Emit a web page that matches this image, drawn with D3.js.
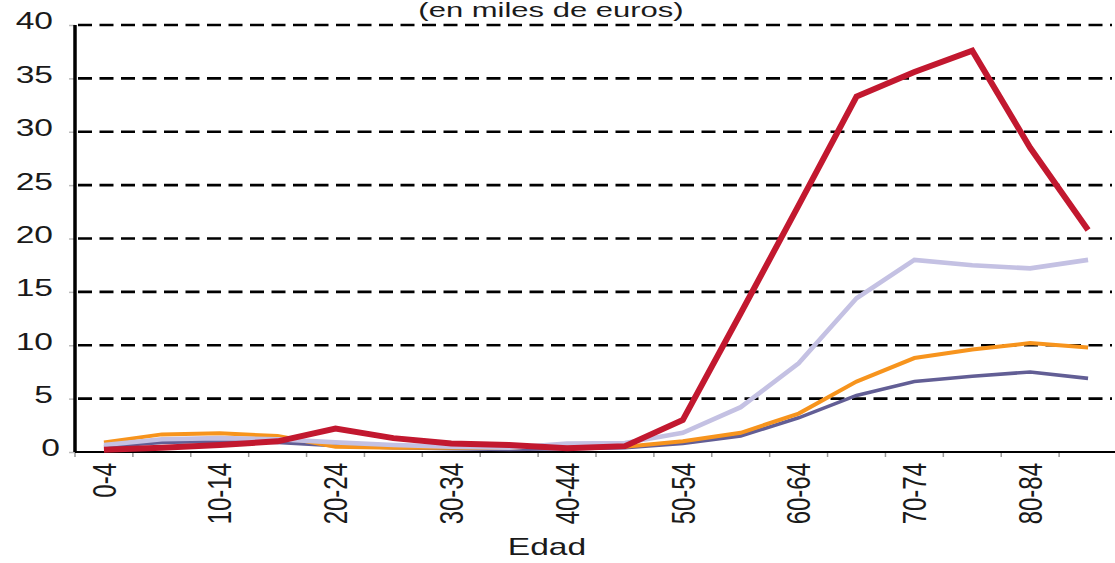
<!DOCTYPE html>
<html>
<head>
<meta charset="utf-8">
<script src="https://cdn.jsdelivr.net/npm/d3@7"></script>
<style>
  html, body { margin: 0; padding: 0; background: #fff; }
  svg { display: block; }
  text { font-family: "Liberation Sans", Arial, sans-serif; fill: #1a1a1a; }
</style>
</head>
<body>
<svg id="chart" width="1115" height="563"></svg>
<script>
const categories = ["0-4","5-9","10-14","15-19","20-24","25-29","30-34","35-39","40-44","45-49","50-54","55-59","60-64","65-69","70-74","75-79","80-84","85+"];
const serieRoja    = [0.2, 0.4, 0.65, 1.0, 2.2, 1.3, 0.8, 0.65, 0.35, 0.55, 3.0, 13.0, 23.1, 33.3, 35.6, 37.6, 28.5, 20.8];
const serieLila    = [0.65, 1.2, 1.3, 1.2, 0.9, 0.65, 0.5, 0.4, 0.8, 0.85, 1.8, 4.2, 8.3, 14.4, 18.0, 17.5, 17.2, 18.0];
const serieNaranja = [0.9, 1.65, 1.75, 1.5, 0.5, 0.4, 0.4, 0.4, 0.7, 0.5, 1.0, 1.8, 3.6, 6.6, 8.8, 9.6, 10.2, 9.8];
const serieMorada  = [0.5, 0.9, 1.0, 0.9, 0.6, 0.4, 0.3, 0.25, 0.3, 0.4, 0.8, 1.5, 3.2, 5.3, 6.6, 7.1, 7.5, 6.9];
const yTicks = [0, 5, 10, 15, 20, 25, 30, 35, 40];
const titleText = "(en miles de euros)";
const xTitle = "Edad";

const svg = d3.select("#chart");
const SX = 1.4; // horizontal stretch of the original text

const x = d3.scaleBand().domain(categories).range([75, 1117]).padding(0);
const y = d3.scaleLinear().domain([0, 40]).range([452, 25]);

// title
svg.append("g").attr("transform", `translate(551,17) scale(1.55,1)`)
  .append("text").attr("text-anchor", "middle").attr("font-size", 20).text(titleText);

// gridlines
svg.append("g").selectAll("line").data(yTicks.filter(d => d > 0)).join("line")
  .attr("x1", 78).attr("x2", 1112)
  .attr("y1", d => y(d)).attr("y2", d => y(d))
  .attr("stroke", "#000").attr("stroke-width", 2.6)
  .attr("stroke-dasharray", "14,7.5");

// y axis
const yAxis = d3.axisLeft(y).tickValues(yTicks).tickSize(6).tickFormat("");
const gy = svg.append("g").attr("transform", "translate(75,0)").call(yAxis);
gy.select(".domain").remove();
gy.selectAll(".tick line").attr("stroke", "#bbb").attr("stroke-width", 1.5);
svg.append("line").attr("x1", 75).attr("x2", 75).attr("y1", y(40)).attr("y2", y(0))
  .attr("stroke", "#000").attr("stroke-width", 3.5);
svg.append("g").selectAll("g").data(yTicks).join("g")
  .attr("transform", d => `translate(${d === 0 ? 60 : 53},${y(d) - 4}) scale(${SX},1)`)
  .append("text").attr("text-anchor", "end").attr("dy", "0.35em").attr("font-size", 24)
  .text(d => d);

// x axis
const xAxis = d3.axisBottom(x).tickSize(0).tickFormat("");
const gx = svg.append("g").attr("transform", `translate(0,${y(0)})`).call(xAxis);
gx.select(".domain").remove();
const bounds = categories.map(c => x(c)).concat([x.range()[1]]);
svg.append("g").selectAll("line").data(bounds).join("line")
  .attr("x1", d => d).attr("x2", d => d).attr("y1", y(0)).attr("y2", y(0) + 5)
  .attr("stroke", "#999").attr("stroke-width", 1.5);
svg.append("line").attr("x1", 75).attr("x2", 1115).attr("y1", y(0)).attr("y2", y(0))
  .attr("stroke", "#000").attr("stroke-width", 2.2);

svg.append("g").selectAll("g").data(categories.filter((c, i) => i % 2 === 0)).join("g")
  .attr("transform", d => `translate(${x(d) + x.bandwidth() / 2},463) scale(${SX},1) rotate(-90)`)
  .append("text").attr("text-anchor", "end").attr("dy", "0.35em").attr("font-size", 24)
  .text(d => d);

svg.append("g").attr("transform", `translate(547,555) scale(${SX},1)`)
  .append("text").attr("text-anchor", "middle").attr("font-size", 24).text(xTitle);

// lines
const line = d3.line()
  .x((d, i) => x(categories[i]) + x.bandwidth() / 2)
  .y(d => y(d))
  .curve(d3.curveLinear);

const series = [
  { values: serieMorada,  color: "#625E95", width: 3.6 },
  { values: serieNaranja, color: "#F7941D", width: 4 },
  { values: serieLila,    color: "#C4C1E3", width: 4.6 },
  { values: serieRoja,    color: "#C2182F", width: 6 }
];
svg.append("g").selectAll("path").data(series).join("path")
  .attr("d", d => line(d.values))
  .attr("fill", "none")
  .attr("stroke", d => d.color)
  .attr("stroke-width", d => d.width)
  .attr("stroke-linejoin", "miter")
  .attr("stroke-linecap", "butt");
</script>
</body>
</html>
